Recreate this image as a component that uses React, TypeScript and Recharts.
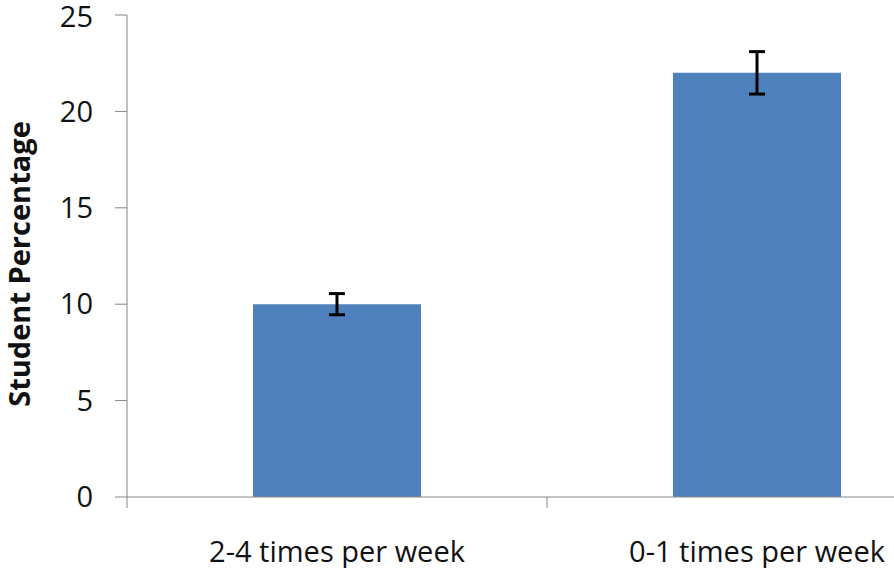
import React from "react";
import { BarChart, Bar, XAxis, YAxis, ErrorBar } from "recharts";

const categories = ["2-4 times per week", "0-1 times per week"];
const percentages = [10, 22];
const errors = [0.55, 1.1];
const yTicks = [0, 5, 10, 15, 20, 25];

const data = categories.map((c, i) => ({ name: c, value: percentages[i], err: errors[i] }));

const FONT = "'Open Sans', sans-serif";
const AXIS = "#868686";

const CatTick = (props: any) => {
  const { x, y, payload } = props;
  const half = payload && typeof payload.offset === "number" && payload.offset > 0 ? payload.offset : 210;
  return (
    <g>
      <line x1={x - half} y1={y} x2={x - half} y2={y + 11} stroke={AXIS} strokeWidth={1} />
      <text x={x} y={y + 65} textAnchor="middle" fontFamily={FONT} fontSize={29} fill="#111">
        {payload.value}
      </text>
    </g>
  );
};

const YTitle = (props: any) => {
  const cx = 18;
  const cy = 264;
  return (
    <text
      x={cx}
      y={cy}
      transform={`rotate(-90 ${cx} ${cy})`}
      textAnchor="middle"
      dominantBaseline="central"
      fontFamily={FONT}
      fontSize={29}
      fontWeight="bold"
      fill="#111"
    >
      Student Percentage
    </text>
  );
};

export default function App() {
  return (
    <div style={{ position: "fixed", left: 0, top: 0, width: 894, height: 568, overflow: "hidden", background: "#fff" }}>
      <BarChart
        width={980}
        height={568}
        data={data}
        margin={{ top: 15, right: 13, left: 0, bottom: 0 }}
        barCategoryGap="30%"
      >
        <XAxis
          dataKey="name"
          height={71}
          axisLine={{ stroke: AXIS, strokeWidth: 1 }}
          tickLine={false}
          tickSize={0}
          tickMargin={0}
          tick={<CatTick />}
          interval={0}
        />
        <YAxis
          width={127}
          domain={[0, 25]}
          ticks={yTicks}
          axisLine={{ stroke: AXIS, strokeWidth: 1 }}
          tickLine={{ stroke: AXIS, strokeWidth: 1 }}
          tickSize={12}
          tickMargin={22}
          tick={{ fontFamily: FONT, fontSize: 29, fill: "#111" }}
          label={(p: any) => <YTitle {...p} />}
        />
        <Bar dataKey="value" fill="#4F81BD" isAnimationActive={false}>
          <ErrorBar dataKey="err" width={8} stroke="#000" strokeWidth={3} direction="y" />
        </Bar>
      </BarChart>
    </div>
  );
}
